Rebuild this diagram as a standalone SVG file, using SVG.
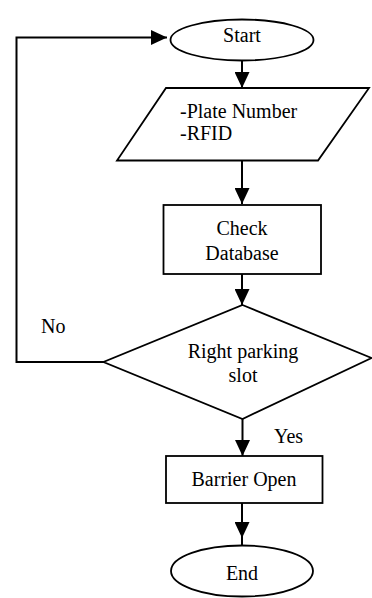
<svg xmlns="http://www.w3.org/2000/svg" width="372" height="598" viewBox="0 0 372 598">
  <style>
    .shape { fill: #ffffff; stroke: #000000; stroke-width: 1.8; }
    .conn { fill: none; stroke: #000000; stroke-width: 2; }
    text { font-family: "Liberation Serif", "Times New Roman", serif; font-size: 20px; fill: #000000; }
    .c { text-anchor: middle; }
  </style>
  <defs>
    <marker id="arrow" markerUnits="userSpaceOnUse" markerWidth="16" markerHeight="15" viewBox="0 0 16 15" refX="16" refY="7.5" orient="auto">
      <path d="M0,0 L16,7.5 L0,15 z" fill="#000000"/>
    </marker>
  </defs>

  <g id="connectors">
    <path class="conn" d="M242,61 V88" marker-end="url(#arrow)"/>
    <path class="conn" d="M242,161 V204" marker-end="url(#arrow)"/>
    <path class="conn" d="M242,274 V305" marker-end="url(#arrow)"/>
    <path class="conn" d="M242.5,419 V456" marker-end="url(#arrow)"/>
    <path class="conn" d="M242,503 V538" marker-end="url(#arrow)"/>
    <path class="conn" d="M242,536 V545"/>
    <path class="conn" d="M104,362 H16.5 V37.5 H167" marker-end="url(#arrow)"/>
    <text x="41" y="333">No</text>
    <text x="274" y="443">Yes</text>
  </g>

  <g id="start">
    <ellipse class="shape" cx="242" cy="40" rx="71.5" ry="20.5"/>
    <text class="c" x="242" y="42">Start</text>
  </g>

  <g id="input">
    <polygon class="shape" points="166,88 369,88 318,160.5 117,160.5"/>
    <text x="180" y="118">-Plate Number</text>
    <text x="180" y="140">-RFID</text>
  </g>

  <g id="check">
    <rect class="shape" x="163.5" y="205" width="157.5" height="69"/>
    <text class="c" x="242" y="235">Check</text>
    <text class="c" x="242" y="260">Database</text>
  </g>

  <g id="decision">
    <polygon class="shape" points="242.5,305 371.5,358 242.5,419 103.5,362"/>
    <text class="c" x="243" y="358">Right parking</text>
    <text class="c" x="243" y="382">slot</text>
  </g>

  <g id="barrier">
    <rect class="shape" x="166" y="456" width="156.5" height="47"/>
    <text class="c" x="244" y="486">Barrier Open</text>
  </g>

  <g id="end">
    <ellipse class="shape" cx="242" cy="571" rx="71" ry="25.5"/>
    <text class="c" x="242" y="580">End</text>
  </g>
</svg>
